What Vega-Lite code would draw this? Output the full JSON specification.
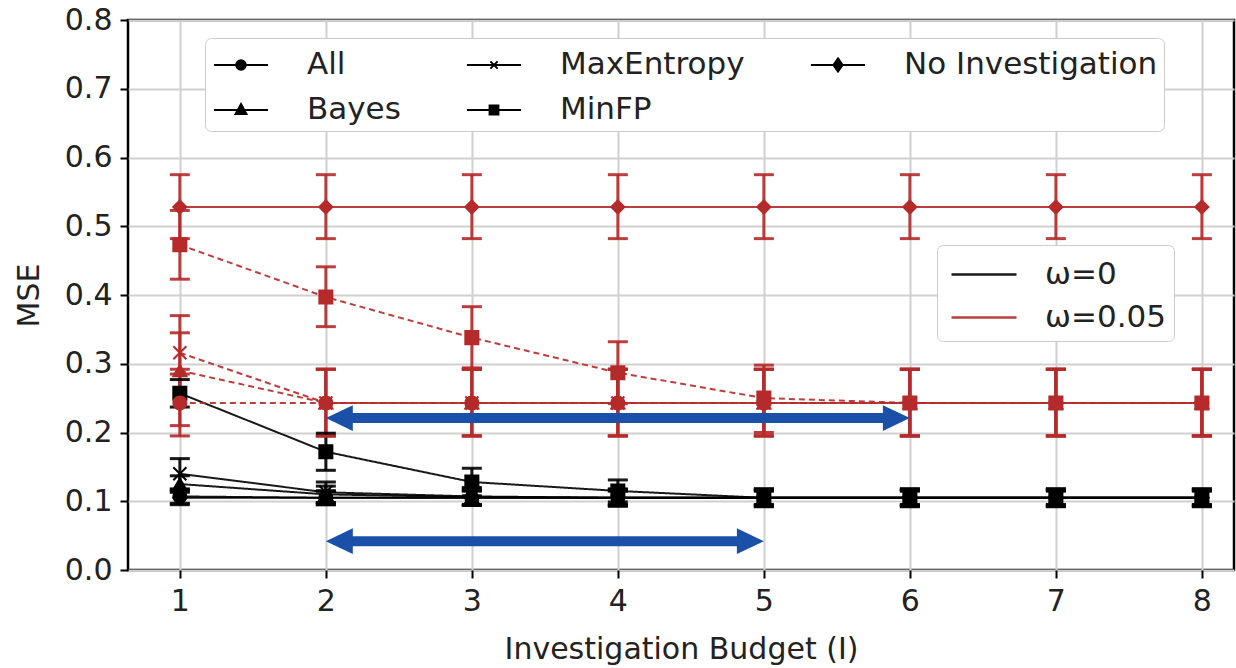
{
  "$schema": "https://vega.github.io/schema/vega-lite/v6.json",
  "width": 1106,
  "height": 550,
  "autosize": {"type": "none"},
  "padding": {"left": 128, "top": 20, "right": 2, "bottom": 98},
  "background": "white",
  "config": {
    "font": "DejaVu Sans",
    "view": {"stroke": "black", "strokeWidth": 2.5},
    "axis": {
      "domain": false, "grid": true, "gridColor": "#d0d0d0", "gridWidth": 2,
      "tickColor": "black", "tickWidth": 2, "tickSize": 8,
      "labelFont": "DejaVu Sans", "labelFontSize": 30, "labelColor": "#222222",
      "titleFont": "DejaVu Sans", "titleFontSize": 30, "titleFontWeight": "normal", "titleColor": "#222222"
    },
    "legend": {"labelFont": "DejaVu Sans", "labelColor": "#222222", "labelLimit": 400}
  },
  "datasets": {
    "series": [
      {"omega":"0","method":"All","x":1,"y":0.107,"lo":0.097,"hi":0.117},
      {"omega":"0","method":"All","x":2,"y":0.105,"lo":0.095,"hi":0.115},
      {"omega":"0","method":"All","x":3,"y":0.105,"lo":0.095,"hi":0.115},
      {"omega":"0","method":"All","x":4,"y":0.105,"lo":0.095,"hi":0.115},
      {"omega":"0","method":"All","x":5,"y":0.105,"lo":0.095,"hi":0.115},
      {"omega":"0","method":"All","x":6,"y":0.105,"lo":0.095,"hi":0.115},
      {"omega":"0","method":"All","x":7,"y":0.105,"lo":0.095,"hi":0.115},
      {"omega":"0","method":"All","x":8,"y":0.105,"lo":0.095,"hi":0.115},
      {"omega":"0","method":"Bayes","x":1,"y":0.125,"lo":0.113,"hi":0.137},
      {"omega":"0","method":"Bayes","x":2,"y":0.110,"lo":0.098,"hi":0.122},
      {"omega":"0","method":"Bayes","x":3,"y":0.106,"lo":0.094,"hi":0.118},
      {"omega":"0","method":"Bayes","x":4,"y":0.105,"lo":0.093,"hi":0.117},
      {"omega":"0","method":"Bayes","x":5,"y":0.105,"lo":0.093,"hi":0.117},
      {"omega":"0","method":"Bayes","x":6,"y":0.105,"lo":0.093,"hi":0.117},
      {"omega":"0","method":"Bayes","x":7,"y":0.105,"lo":0.093,"hi":0.117},
      {"omega":"0","method":"Bayes","x":8,"y":0.105,"lo":0.093,"hi":0.117},
      {"omega":"0","method":"MaxEntropy","x":1,"y":0.140,"lo":0.118,"hi":0.162},
      {"omega":"0","method":"MaxEntropy","x":2,"y":0.113,"lo":0.098,"hi":0.128},
      {"omega":"0","method":"MaxEntropy","x":3,"y":0.107,"lo":0.094,"hi":0.120},
      {"omega":"0","method":"MaxEntropy","x":4,"y":0.105,"lo":0.093,"hi":0.118},
      {"omega":"0","method":"MaxEntropy","x":5,"y":0.105,"lo":0.093,"hi":0.118},
      {"omega":"0","method":"MaxEntropy","x":6,"y":0.105,"lo":0.093,"hi":0.118},
      {"omega":"0","method":"MaxEntropy","x":7,"y":0.105,"lo":0.093,"hi":0.118},
      {"omega":"0","method":"MaxEntropy","x":8,"y":0.105,"lo":0.093,"hi":0.118},
      {"omega":"0","method":"MinFP","x":1,"y":0.257,"lo":0.237,"hi":0.277},
      {"omega":"0","method":"MinFP","x":2,"y":0.172,"lo":0.145,"hi":0.199},
      {"omega":"0","method":"MinFP","x":3,"y":0.128,"lo":0.108,"hi":0.148},
      {"omega":"0","method":"MinFP","x":4,"y":0.115,"lo":0.099,"hi":0.131},
      {"omega":"0","method":"MinFP","x":5,"y":0.105,"lo":0.092,"hi":0.118},
      {"omega":"0","method":"MinFP","x":6,"y":0.105,"lo":0.092,"hi":0.118},
      {"omega":"0","method":"MinFP","x":7,"y":0.105,"lo":0.092,"hi":0.118},
      {"omega":"0","method":"MinFP","x":8,"y":0.105,"lo":0.092,"hi":0.118},
      {"omega":"0","method":"No Investigation","x":1,"y":0.105,"lo":0.095,"hi":0.115},
      {"omega":"0","method":"No Investigation","x":2,"y":0.105,"lo":0.095,"hi":0.115},
      {"omega":"0","method":"No Investigation","x":3,"y":0.105,"lo":0.095,"hi":0.115},
      {"omega":"0","method":"No Investigation","x":4,"y":0.105,"lo":0.095,"hi":0.115},
      {"omega":"0","method":"No Investigation","x":5,"y":0.105,"lo":0.095,"hi":0.115},
      {"omega":"0","method":"No Investigation","x":6,"y":0.105,"lo":0.095,"hi":0.115},
      {"omega":"0","method":"No Investigation","x":7,"y":0.105,"lo":0.095,"hi":0.115},
      {"omega":"0","method":"No Investigation","x":8,"y":0.105,"lo":0.095,"hi":0.115},
      {"omega":"0.05","method":"All","x":1,"y":0.243,"lo":0.195,"hi":0.292},
      {"omega":"0.05","method":"All","x":2,"y":0.243,"lo":0.195,"hi":0.292},
      {"omega":"0.05","method":"All","x":3,"y":0.243,"lo":0.195,"hi":0.292},
      {"omega":"0.05","method":"All","x":4,"y":0.243,"lo":0.195,"hi":0.292},
      {"omega":"0.05","method":"All","x":5,"y":0.243,"lo":0.195,"hi":0.292},
      {"omega":"0.05","method":"All","x":6,"y":0.243,"lo":0.195,"hi":0.292},
      {"omega":"0.05","method":"All","x":7,"y":0.243,"lo":0.195,"hi":0.292},
      {"omega":"0.05","method":"All","x":8,"y":0.243,"lo":0.195,"hi":0.292},
      {"omega":"0.05","method":"Bayes","x":1,"y":0.290,"lo":0.210,"hi":0.370},
      {"omega":"0.05","method":"Bayes","x":2,"y":0.243,"lo":0.195,"hi":0.292},
      {"omega":"0.05","method":"Bayes","x":3,"y":0.243,"lo":0.195,"hi":0.292},
      {"omega":"0.05","method":"Bayes","x":4,"y":0.243,"lo":0.195,"hi":0.292},
      {"omega":"0.05","method":"Bayes","x":5,"y":0.243,"lo":0.195,"hi":0.292},
      {"omega":"0.05","method":"Bayes","x":6,"y":0.243,"lo":0.195,"hi":0.292},
      {"omega":"0.05","method":"Bayes","x":7,"y":0.243,"lo":0.195,"hi":0.292},
      {"omega":"0.05","method":"Bayes","x":8,"y":0.243,"lo":0.195,"hi":0.292},
      {"omega":"0.05","method":"MaxEntropy","x":1,"y":0.316,"lo":0.285,"hi":0.345},
      {"omega":"0.05","method":"MaxEntropy","x":2,"y":0.243,"lo":0.195,"hi":0.292},
      {"omega":"0.05","method":"MaxEntropy","x":3,"y":0.243,"lo":0.195,"hi":0.292},
      {"omega":"0.05","method":"MaxEntropy","x":4,"y":0.243,"lo":0.195,"hi":0.292},
      {"omega":"0.05","method":"MaxEntropy","x":5,"y":0.243,"lo":0.195,"hi":0.292},
      {"omega":"0.05","method":"MaxEntropy","x":6,"y":0.243,"lo":0.195,"hi":0.292},
      {"omega":"0.05","method":"MaxEntropy","x":7,"y":0.243,"lo":0.195,"hi":0.292},
      {"omega":"0.05","method":"MaxEntropy","x":8,"y":0.243,"lo":0.195,"hi":0.292},
      {"omega":"0.05","method":"MinFP","x":1,"y":0.473,"lo":0.423,"hi":0.523},
      {"omega":"0.05","method":"MinFP","x":2,"y":0.397,"lo":0.354,"hi":0.441},
      {"omega":"0.05","method":"MinFP","x":3,"y":0.338,"lo":0.294,"hi":0.383},
      {"omega":"0.05","method":"MinFP","x":4,"y":0.287,"lo":0.242,"hi":0.332},
      {"omega":"0.05","method":"MinFP","x":5,"y":0.250,"lo":0.200,"hi":0.298},
      {"omega":"0.05","method":"MinFP","x":6,"y":0.243,"lo":0.195,"hi":0.292},
      {"omega":"0.05","method":"MinFP","x":7,"y":0.243,"lo":0.195,"hi":0.292},
      {"omega":"0.05","method":"MinFP","x":8,"y":0.243,"lo":0.195,"hi":0.292},
      {"omega":"0.05","method":"No Investigation","x":1,"y":0.528,"lo":0.482,"hi":0.575},
      {"omega":"0.05","method":"No Investigation","x":2,"y":0.528,"lo":0.482,"hi":0.575},
      {"omega":"0.05","method":"No Investigation","x":3,"y":0.528,"lo":0.482,"hi":0.575},
      {"omega":"0.05","method":"No Investigation","x":4,"y":0.528,"lo":0.482,"hi":0.575},
      {"omega":"0.05","method":"No Investigation","x":5,"y":0.528,"lo":0.482,"hi":0.575},
      {"omega":"0.05","method":"No Investigation","x":6,"y":0.528,"lo":0.482,"hi":0.575},
      {"omega":"0.05","method":"No Investigation","x":7,"y":0.528,"lo":0.482,"hi":0.575},
      {"omega":"0.05","method":"No Investigation","x":8,"y":0.528,"lo":0.482,"hi":0.575}
    ],
    "arrows": [
      {"x1": 2, "x2": 6, "y": 0.221},
      {"x1": 2, "x2": 5, "y": 0.042}
    ],
    "heads": [
      {"x": 2, "y": 0.221, "end": "left"},
      {"x": 6, "y": 0.221, "end": "right"},
      {"x": 2, "y": 0.042, "end": "left"},
      {"x": 5, "y": 0.042, "end": "right"}
    ]
  },
  "resolve": {"scale": {"shape": "independent"}},
  "layer": [
    {
      "data": {"name": "series"},
      "mark": {"type": "line", "strokeWidth": 2, "opacity": 0.9},
      "encoding": {
        "x": {"field": "x", "type": "quantitative", "title": "Investigation Budget (I)",
              "scale": {"domain": [0.645, 8.22], "nice": false, "zero": false},
              "axis": {"values": [1,2,3,4,5,6,7,8], "format": "d", "labelPadding": 8, "titlePadding": 18, "labelFlush": false}},
        "y": {"field": "y", "type": "quantitative", "title": "MSE",
              "scale": {"domain": [0, 0.8], "nice": false},
              "axis": {"values": [0,0.1,0.2,0.3,0.4,0.5,0.6,0.7,0.8], "format": ".1f", "labelPadding": 8, "titlePadding": 20, "labelFlush": false}},
        "color": {"field": "omega", "type": "nominal",
                  "scale": {"domain": ["0", "0.05"], "range": ["#000000", "#b52a2a"]},
                  "legend": {"orient": "none", "legendX": 809, "legendY": 225, "title": null,
                             "padding": 8, "symbolSize": 1600, "symbolType": "M-0.75,0H2.5",
                             "symbolStrokeWidth": 2.5, "labelOffset": 57, "rowPadding": 6,
                             "labelFontSize": 31, "fillColor": "white", "strokeColor": "#cccccc",
                             "cornerRadius": 6, "labelExpr": "'ω=' + datum.label"}},
        "detail": {"field": "method"},
        "strokeDash": {"condition": {"test": "datum.omega == '0'", "value": [1, 0]},
                       "field": "method", "type": "nominal",
                       "scale": {"domain": ["All","Bayes","MaxEntropy","MinFP","No Investigation"],
                                 "range": [[6,4],[6,4],[6,4],[6,4],[1,0]]},
                       "legend": null},
        "order": {"field": "x"}
      }
    },
    {
      "data": {"name": "series"},
      "mark": {"type": "rule", "strokeWidth": 3, "opacity": 0.9},
      "encoding": {
        "x": {"field": "x", "type": "quantitative", "title": "Investigation Budget (I)"},
        "y": {"field": "lo", "type": "quantitative", "title": "MSE"},
        "y2": {"field": "hi"},
        "color": {"field": "omega", "type": "nominal", "legend": null}
      }
    },
    {
      "data": {"name": "series"},
      "mark": {"type": "tick", "orient": "horizontal", "size": 20, "thickness": 3, "opacity": 0.9},
      "encoding": {
        "x": {"field": "x", "type": "quantitative", "title": "Investigation Budget (I)"},
        "y": {"field": "lo", "type": "quantitative", "title": "MSE"},
        "color": {"field": "omega", "type": "nominal", "legend": null}
      }
    },
    {
      "data": {"name": "series"},
      "mark": {"type": "tick", "orient": "horizontal", "size": 20, "thickness": 3, "opacity": 0.9},
      "encoding": {
        "x": {"field": "x", "type": "quantitative", "title": "Investigation Budget (I)"},
        "y": {"field": "hi", "type": "quantitative", "title": "MSE"},
        "color": {"field": "omega", "type": "nominal", "legend": null}
      }
    },
    {
      "data": {"name": "series"},
      "mark": {"type": "point", "filled": true, "size": 170, "strokeWidth": 2, "opacity": 1},
      "encoding": {
        "x": {"field": "x", "type": "quantitative", "title": "Investigation Budget (I)"},
        "y": {"field": "y", "type": "quantitative", "title": "MSE"},
        "fill": {"field": "omega", "type": "nominal", "scale": {"domain": ["0", "0.05"], "range": ["#000000", "#b52a2a"]}, "legend": null},
        "stroke": {"field": "omega", "type": "nominal", "scale": {"domain": ["0", "0.05"], "range": ["#000000", "#b52a2a"]}, "legend": null},
        "shape": {"field": "method", "type": "nominal",
                  "scale": {"domain": ["All","Bayes","MaxEntropy","MinFP","No Investigation"],
                            "range": ["circle","triangle-up","M-1,-1L1,1M-1,1L1,-1","square","diamond"]},
                  "legend": null}
      }
    },
    {
      "data": {"name": "series"},
      "mark": {"type": "point", "filled": false, "color": "black", "strokeWidth": 2, "opacity": 0},
      "encoding": {
        "x": {"field": "x", "type": "quantitative", "title": "Investigation Budget (I)"},
        "y": {"field": "y", "type": "quantitative", "title": "MSE"},
        "shape": {"field": "method", "type": "nominal",
                  "scale": {"domain": ["All","Bayes","MaxEntropy","MinFP","No Investigation"],
                            "range": [
                              "M-0.9,0H1.8M0.21,0A0.24,0.24 0 1,1 0.69,0A0.24,0.24 0 1,1 0.21,0ZM0.31,0A0.14,0.14 0 1,1 0.59,0A0.14,0.14 0 1,1 0.31,0ZM0.4,0A0.05,0.05 0 1,1 0.5,0A0.05,0.05 0 1,1 0.4,0Z",
                              "M-0.9,0H1.8M0.45,-0.3L0.72,0.2L0.18,0.2ZM0.45,-0.167L0.612,0.133L0.288,0.133ZM0.45,-0.05L0.518,0.075L0.382,0.075Z",
                              "M-0.9,0H1.8M0.27,-0.18L0.63,0.18M0.27,0.18L0.63,-0.18",
                              "M-0.9,0H1.8M0.23,-0.22H0.67V0.22H0.23ZM0.33,-0.12H0.57V0.12H0.33ZM0.42,-0.03H0.48V0.03H0.42Z",
                              "M-0.9,0H1.8M0.45,-0.33L0.68,0L0.45,0.33L0.22,0ZM0.45,-0.2L0.588,0L0.45,0.2L0.312,0ZM0.45,-0.08L0.508,0L0.45,0.08L0.392,0Z"
                            ]},
                  "legend": {"orient": "none", "legendX": 77, "legendY": 18, "title": null,
                             "columns": 3, "columnPadding": 62, "rowPadding": 9, "padding": 6,
                             "symbolSize": 1600, "labelOffset": 54, "labelFontSize": 31,
                             "fillColor": "white", "strokeColor": "#cccccc", "cornerRadius": 6,
                             "symbolStrokeWidth": 2, "symbolFillColor": "black", "symbolStrokeColor": "black",
                             "symbolOpacity": 1,
                             "encode": {"symbols": {"update": {"stroke": {"value": "black"}, "strokeWidth": {"value": 2}, "fill": {"value": "black"}, "opacity": {"value": 1}}}}}}
      }
    },
    {
      "data": {"name": "arrows"},
      "mark": {"type": "rule", "strokeWidth": 10, "color": "#1a50a8", "xOffset": 14, "x2Offset": -14},
      "encoding": {
        "x": {"field": "x1", "type": "quantitative", "title": "Investigation Budget (I)"},
        "x2": {"field": "x2"},
        "y": {"field": "y", "type": "quantitative", "title": "MSE"}
      }
    },
    {
      "data": {"name": "heads"},
      "mark": {"type": "point", "filled": true, "color": "#1a50a8", "size": 729, "opacity": 1},
      "encoding": {
        "x": {"field": "x", "type": "quantitative", "title": "Investigation Budget (I)"},
        "y": {"field": "y", "type": "quantitative", "title": "MSE"},
        "shape": {"field": "end", "type": "nominal",
                  "scale": {"domain": ["left", "right"], "range": ["M0,0L2,-0.95L2,0.95Z", "M0,0L-2,-0.95L-2,0.95Z"]},
                  "legend": null}
      }
    }
  ]
}
